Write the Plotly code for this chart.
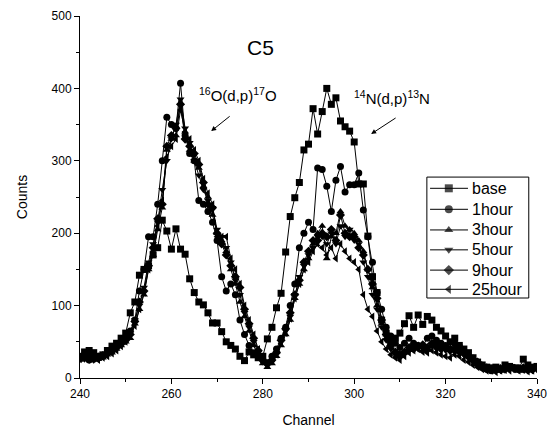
import plotly.graph_objects as go

channels = list(range(240, 341))

base = [30, 36, 38, 35, 30, 32, 38, 44, 48, 55, 62,
        90, 105, 142, 150, 155, 170, 180, 218, 203, 178,
        206, 178, 171, 137, 118, 105, 101, 90, 76, 76,
        64, 50, 45, 40, 30, 24, 36, 32, 28, 30,
        54, 70, 97, 117, 174, 223, 249, 270, 315, 323,
        372, 337, 368, 400, 378, 387, 355, 347, 341, 326,
        268, 268, 196, 140, 118, 80, 62, 50, 55, 62,
        75, 86, 70, 87, 74, 85, 80, 70, 65, 58,
        50, 55, 45, 40, 35, 28, 22, 18, 15, 14,
        15, 12, 18, 16, 14, 12, 26, 18, 15, 16]

hour1 = [28, 32, 25, 30, 28, 30, 35, 40, 45, 50, 55,
         65, 80, 120, 150, 195, 195, 240, 300, 360, 350,
         345, 407, 335, 310, 300, 245, 240, 230, 215, 190,
         140, 120, 130, 115, 80, 60, 45, 35, 30, 25,
         20, 30, 40, 55, 70, 100, 130, 180, 200, 215,
         205, 290, 288, 265, 230, 273, 292, 257, 267, 267,
         283, 232, 195, 160, 118, 95, 70, 58, 48, 42,
         48, 55, 48, 45, 44, 55, 58, 52, 48, 45,
         40, 48, 44, 35, 30, 25, 20, 15, 12, 10,
         12, 12, 15, 15, 14, 14, 12, 15, 12, 15]

hour3 = [25, 28, 30, 25, 26, 28, 32, 35, 40, 45, 50,
         55, 75, 95, 115, 150, 170, 205, 235, 315, 330,
         335, 380, 340, 315, 300, 290, 265, 250, 225, 200,
         190, 175, 150, 130, 105, 85, 65, 45, 30, 20,
         15, 20, 30, 45, 60, 80, 110, 130, 150, 165,
         185, 200, 210, 165, 195, 200, 230, 210, 205, 200,
         190, 175, 150, 125, 100, 75, 55, 42, 35, 30,
         35, 40, 42, 45, 38, 40, 44, 48, 45, 40,
         38, 42, 40, 35, 30, 28, 22, 18, 14, 12,
         10, 12, 13, 12, 15, 12, 14, 10, 12, 14]

hour5 = [30, 26, 24, 28, 26, 30, 33, 38, 42, 48, 55,
         62, 80, 100, 125, 160, 185, 215, 260, 300, 330,
         350, 385, 345, 325, 300, 280, 260, 245, 235, 205,
         195, 180, 160, 135, 115, 90, 70, 50, 35, 22,
         18, 22, 35, 50, 65, 85, 115, 140, 155, 170,
         180, 195, 195, 185, 200, 185, 210, 195, 205, 190,
         185, 160, 140, 115, 95, 70, 52, 40, 32, 28,
         33, 38, 45, 40, 44, 38, 45, 40, 42, 38,
         36, 40, 38, 32, 28, 24, 20, 16, 13, 11,
         12, 10, 12, 14, 12, 13, 11, 12, 10, 13]

hour9 = [27, 30, 28, 26, 29, 31, 35, 37, 42, 47, 52,
         60, 78, 105, 120, 155, 180, 220, 240, 320, 335,
         345, 378, 330, 320, 310, 295, 270, 240, 235, 200,
         185, 170, 155, 140, 125, 95, 75, 55, 38, 25,
         20, 25, 35, 52, 68, 90, 115, 135, 160, 175,
         190, 190, 200, 195, 205, 190, 225, 200, 195, 195,
         180, 170, 150, 130, 110, 80, 60, 45, 36, 32,
         36, 42, 40, 44, 46, 42, 48, 44, 40, 42,
         40, 38, 36, 34, 30, 26, 22, 16, 14, 12,
         11, 13, 12, 14, 13, 12, 14, 11, 12, 13]

hour25 = [26, 28, 30, 27, 25, 28, 30, 34, 38, 44, 50,
          58, 72, 95, 118, 150, 175, 210, 245, 305, 320,
          330, 370, 340, 330, 315, 300, 275, 255, 240, 195,
          195, 195, 165, 150, 130, 100, 80, 60, 40, 28,
          20, 24, 32, 48, 62, 82, 110, 130, 150, 160,
          175, 185, 180, 170, 180, 165, 185, 175, 165, 160,
          150, 115, 95, 85, 65, 50, 40, 32, 28, 25,
          30, 35, 38, 40, 36, 35, 38, 35, 32, 30,
          28, 32, 30, 25, 22, 18, 15, 12, 10, 10,
          8, 10, 11, 10, 12, 10, 11, 9, 10, 12]

series_names = ["base", "1hour", "3hour", "5hour", "9hour", "25hour"]
series_values = [base, hour1, hour3, hour5, hour9, hour25]
series_symbols = ["square", "circle", "triangle-up", "triangle-down",
                  "diamond", "triangle-left"]

FONT = "Liberation Sans, Arial, sans-serif"
MARKER_SIZE = 7

fig = go.Figure()
for name, counts, symbol in zip(series_names, series_values, series_symbols):
    fig.add_trace(go.Scatter(
        x=channels, y=counts, name=name, mode="lines+markers",
        line=dict(color="black", width=1),
        marker=dict(symbol=symbol, size=MARKER_SIZE, color="black",
                    line=dict(width=0)),
        showlegend=False,
    ))

# Boxed key in the upper right, drawn on an overlay axis spanning the
# plot area in [0, 1] fractions so its rows can be spaced tightly.
key_left, key_right = 0.759, 0.982
key_top, key_bottom = 0.555, 0.221
row_y = [0.524, 0.466, 0.409, 0.354, 0.298, 0.245]
sample_x = [0.766, 0.807, 0.849]
text_x = 0.853

annotations = []
for name, symbol, yk in zip(series_names, series_symbols, row_y):
    fig.add_trace(go.Scatter(
        x=sample_x, y=[yk] * 3, mode="lines+markers",
        xaxis="x2", yaxis="y2", showlegend=False, hoverinfo="skip",
        line=dict(color="black", width=1),
        marker=dict(symbol=symbol, size=[0, MARKER_SIZE + 1, 0],
                    color="black", line=dict(width=0)),
    ))
    annotations.append(dict(
        x=text_x, y=yk, xref="x2", yref="y2", text=name,
        xanchor="left", yanchor="middle", showarrow=False,
        font=dict(size=16, family=FONT),
    ))

annotations += [
    dict(x=279.6, y=457, xref="x", yref="y", text="C5", showarrow=False,
         font=dict(size=21, family=FONT)),
    dict(x=274.6, y=391, xref="x", yref="y",
         text="<sup>16</sup>O(d,p)<sup>17</sup>O",
         showarrow=False, font=dict(size=15, family=FONT)),
    dict(x=308.3, y=388, xref="x", yref="y",
         text="<sup>14</sup>N(d,p)<sup>13</sup>N",
         showarrow=False, font=dict(size=15, family=FONT)),
    dict(x=268.7, y=341, xref="x", yref="y", ax=20, ay=-16, text="",
         showarrow=True, arrowhead=2, arrowsize=1, arrowwidth=1,
         arrowcolor="black"),
    dict(x=303.7, y=337, xref="x", yref="y", ax=26, ay=-17, text="",
         showarrow=True, arrowhead=2, arrowsize=1, arrowwidth=1,
         arrowcolor="black"),
]

fig.update_layout(
    width=554, height=430,
    margin=dict(l=80, r=17, t=16, b=52),
    paper_bgcolor="white", plot_bgcolor="white",
    font=dict(family=FONT, color="black", size=12),
    showlegend=False,
    xaxis=dict(
        range=[240, 340], dtick=20, tick0=240, automargin=False,
        showline=True, linecolor="black", linewidth=1,
        ticks="outside", ticklen=5, tickcolor="black",
        showgrid=False, zeroline=False,
        minor=dict(ticks="outside", ticklen=3, dtick=10, tickcolor="black"),
        title=dict(text="Channel", font=dict(size=14), standoff=14),
        tickfont=dict(size=12),
    ),
    yaxis=dict(
        range=[0, 500], dtick=100, automargin=False,
        showline=True, linecolor="black", linewidth=1,
        ticks="outside", ticklen=5, tickcolor="black",
        showgrid=False, zeroline=False,
        minor=dict(ticks="outside", ticklen=3, dtick=50, tickcolor="black"),
        title=dict(text="Counts", font=dict(size=14), standoff=20),
        tickfont=dict(size=12),
    ),
    xaxis2=dict(overlaying="x", range=[0, 1], visible=False,
                fixedrange=True, automargin=False),
    yaxis2=dict(overlaying="y", range=[0, 1], visible=False,
                fixedrange=True, automargin=False),
    shapes=[dict(type="rect", xref="x2", yref="y2",
                 x0=key_left, x1=key_right, y0=key_bottom, y1=key_top,
                 line=dict(color="black", width=1), fillcolor="white",
                 layer="below")],
    annotations=annotations,
)

fig.write_html("out.html")
